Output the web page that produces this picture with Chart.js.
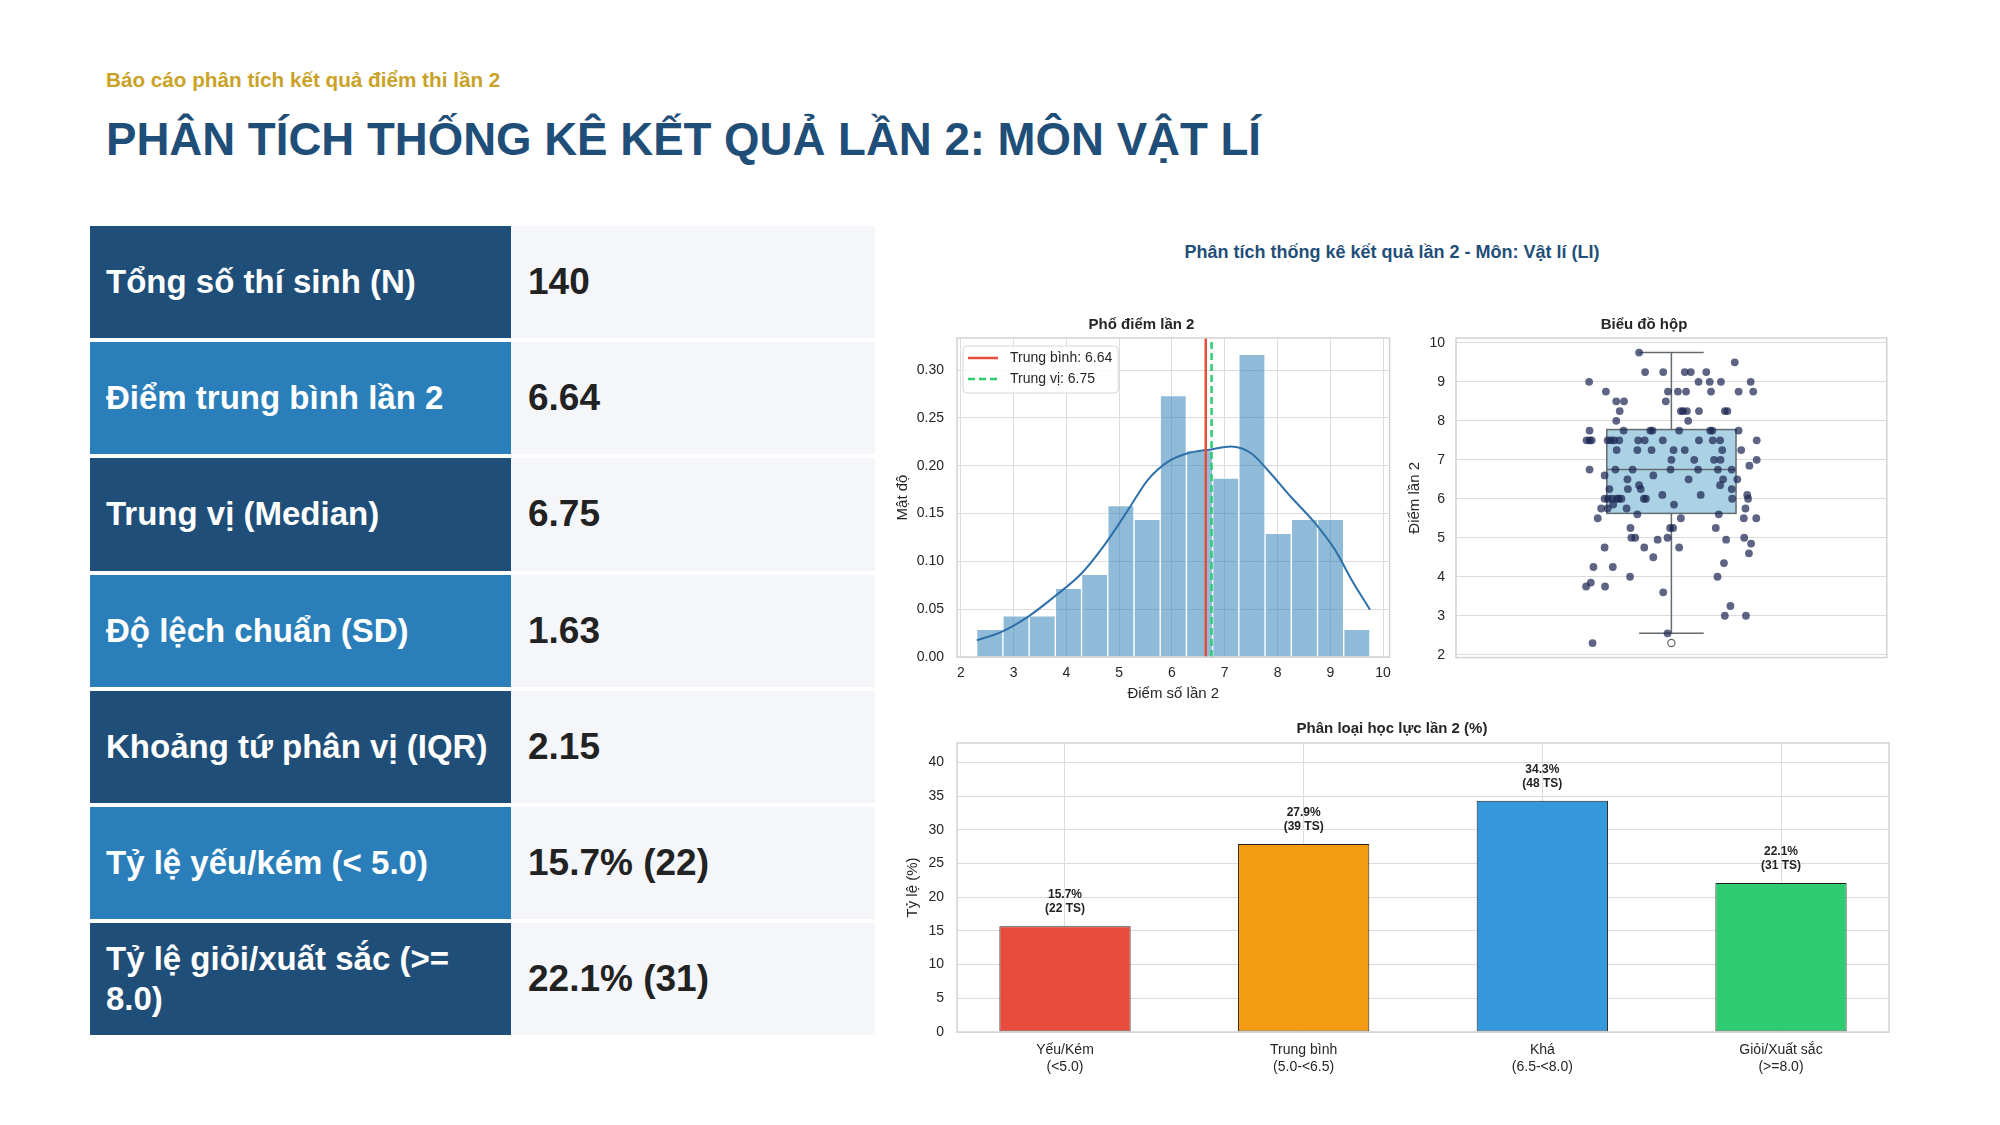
<!DOCTYPE html>
<html>
<head>
<meta charset="utf-8">
<script src="https://cdn.jsdelivr.net/npm/chart.js@4.4.1/dist/chart.umd.min.js"></script>
<style>
html,body{margin:0;padding:0;background:#fff;}
body{width:2000px;height:1125px;position:relative;overflow:hidden;font-family:'Liberation Sans',Arial,Helvetica,sans-serif;}
.sub{position:absolute;left:106px;top:68px;font-size:20.7px;font-weight:bold;color:#c9a227;line-height:24px;white-space:nowrap;}
.title{position:absolute;left:106px;top:114px;font-size:45.6px;font-weight:bold;color:#1f4e79;line-height:52px;white-space:nowrap;}
.table{position:absolute;left:90px;top:226px;width:785px;}
.row{display:flex;height:112.2px;margin-bottom:4px;}
.lab{width:421px;box-sizing:border-box;padding:0 14px 0 16px;display:flex;align-items:center;color:#fff;font-weight:bold;font-size:33px;line-height:40px;}
.row.dark .lab{background:#1f4e79;}
.row.light .lab{background:#2a7fba;}
.val{flex:1;background:#f4f6f9;display:flex;align-items:center;padding-left:17px;font-weight:bold;font-size:37px;color:#222;}
.suptitle{position:absolute;left:1092px;width:600px;top:241px;text-align:center;font-size:18px;font-weight:bold;line-height:22px;color:#1f4e79;white-space:nowrap;}
.cbox{position:absolute;}
</style>
</head>
<body>
<div class="sub">Báo cáo phân tích kết quả điểm thi lần 2</div>
<div class="title">PHÂN TÍCH THỐNG KÊ KẾT QUẢ LẦN 2: MÔN VẬT LÍ</div>
<div class="table" id="statTable"></div>
<div class="suptitle">Phân tích thống kê kết quả lần 2 - Môn: Vật lí (LI)</div>
<div class="cbox" style="left:890px;top:316px;width:509px;height:391px;"><canvas id="hist"></canvas></div>
<div class="cbox" style="left:1400px;top:316px;width:492px;height:361px;"><canvas id="box"></canvas></div>
<div class="cbox" style="left:895px;top:720px;width:1000px;height:370px;"><canvas id="bar"></canvas></div>
<script>
// ---------------- DATA ----------------
const statLabels = ['Tổng số thí sinh (N)', 'Điểm trung bình lần 2', 'Trung vị (Median)', 'Độ lệch chuẩn (SD)', 'Khoảng tứ phân vị (IQR)', 'Tỷ lệ yếu/kém (< 5.0)', 'Tỷ lệ giỏi/xuất sắc (>= 8.0)'];
const statValues = ['140', '6.64', '6.75', '1.63', '2.15', '15.7% (22)', '22.1% (31)'];

const meanScore = 6.64;
const medianScore = 6.75;

// histogram (density) bins
const binCenters = [2.548, 3.045, 3.542, 4.039, 4.535, 5.032, 5.529, 6.025, 6.522, 7.019, 7.515, 8.012, 8.509, 9.005, 9.502];
const binDensity = [0.0288, 0.0431, 0.0431, 0.0719, 0.0863, 0.1582, 0.1438, 0.2733, 0.2157, 0.1870, 0.3164, 0.1294, 0.1438, 0.1438, 0.0288];
// KDE curve
const kdeX = [2.30, 2.76, 3.27, 3.77, 4.28, 4.72, 5.16, 5.54, 5.92, 6.30, 6.74, 7.12, 7.50, 7.82, 8.26, 8.71, 9.09, 9.41, 9.75];
const kdeY = [0.0174, 0.026, 0.042, 0.063, 0.087, 0.117, 0.153, 0.185, 0.204, 0.213, 0.217, 0.220, 0.213, 0.195, 0.167, 0.140, 0.112, 0.080, 0.0495];

// box plot
const boxQ1 = 5.625, boxMedian = 6.75, boxQ3 = 7.775, whiskerLow = 2.55, whiskerHigh = 9.75;
const flierScores = [2.3];
const stripScore = [9.75,9.5,9.25,9.25,9.25,9.25,9.25,9.0,9.0,9.0,9.0,9.0,8.75,8.75,8.75,8.75,8.75,8.75,8.75,8.5,8.5,8.5,8.25,8.25,8.25,8.25,8.25,8.25,8.25,8.0,8.0,
  7.75,7.75,7.75,7.75,7.75,7.75,7.75,7.75,7.5,7.5,7.5,7.5,7.5,7.5,7.5,7.5,7.5,7.5,7.5,7.5,7.5,7.5,7.25,7.25,7.25,7.25,7.25,7.25,7.25,7.0,7.0,7.0,7.0,7.0,6.85,
  6.75,6.75,6.75,6.75,6.75,6.75,6.75,6.6,6.6,6.5,6.5,6.5,6.5,6.35,6.35,6.25,6.25,6.25,6.25,6.1,6.1,6.1,6.0,6.0,6.0,6.0,6.0,6.0,6.0,6.0,6.0,5.85,5.85,
  5.75,5.75,5.75,5.75,5.6,5.6,5.5,5.5,5.5,5.5,5.25,5.25,5.25,5.25,5.0,5.0,5.0,5.0,4.95,4.95,4.85,4.75,4.75,4.75,4.6,4.5,4.35,4.25,4.25,4.0,4.0,
  3.85,3.75,3.75,3.6,3.25,3.0,3.0,2.55,2.3,6.0];
const stripJitter = [-0.075,0.147,-0.061,-0.019,0.031,0.045,0.081,-0.191,0.063,0.089,0.115,0.184,-0.152,-0.008,0.015,0.034,0.092,0.156,0.190,-0.128,-0.110,-0.013,-0.120,0.022,0.027,0.036,0.064,0.124,0.130,-0.128,0.039,
  -0.190,-0.111,-0.049,-0.044,0.018,0.090,0.095,0.156,-0.197,-0.190,-0.185,-0.148,-0.140,-0.133,-0.121,-0.077,-0.062,-0.020,0.064,0.096,0.113,0.198,-0.127,-0.079,-0.046,0.005,0.031,0.118,0.162,0.000,0.053,0.099,0.114,0.198,0.181,
  -0.190,-0.130,-0.090,-0.002,0.062,0.108,0.140,-0.155,-0.042,-0.102,0.040,0.120,0.153,-0.075,0.113,-0.144,-0.101,-0.071,0.140,-0.021,0.068,0.176,-0.155,-0.147,-0.138,-0.127,-0.116,-0.064,-0.059,0.141,0.178,-0.135,0.006,
  -0.163,-0.148,-0.104,0.172,-0.079,0.110,-0.171,0.022,0.168,0.197,-0.095,-0.003,0.004,0.103,-0.093,-0.084,-0.009,0.169,-0.032,0.127,0.185,-0.155,-0.063,0.018,0.180,-0.042,0.122,-0.181,-0.136,-0.096,0.107,
  -0.187,-0.198,-0.154,-0.019,0.137,0.124,0.173,-0.009,-0.183,-0.122];

// classification bar chart
const levelLabels = [['Yếu/Kém', '(<5.0)'], ['Trung bình', '(5.0-<6.5)'], ['Khá', '(6.5-<8.0)'], ['Giỏi/Xuất sắc', '(>=8.0)']];
const levelPct = [15.7, 27.9, 34.3, 22.1];
const levelCount = [22, 39, 48, 31];

// ---------------- STYLES ----------------
const levelColors = ['#e74c3c', '#f39c12', '#3498db', '#2ecc71'];
const FONT = "'Liberation Sans', Arial, Helvetica, sans-serif";
const GRID = '#dcdcdc';
const TXT = '#262626';

// ---------------- TABLE ----------------
const tbl = document.getElementById('statTable');
statLabels.forEach((l, i) => {
  const r = document.createElement('div');
  r.className = 'row ' + (i % 2 === 0 ? 'dark' : 'light');
  const a = document.createElement('div'); a.className = 'lab'; a.textContent = l;
  const b = document.createElement('div'); b.className = 'val'; b.textContent = statValues[i];
  r.appendChild(a); r.appendChild(b); tbl.appendChild(r);
});

// ---------------- CHARTS ----------------
Chart.defaults.font.family = FONT;
Chart.defaults.color = TXT;
Chart.defaults.animation = false;
Chart.defaults.plugins.legend.display = false;
Chart.defaults.plugins.tooltip.enabled = false;

const fixW = w => s => { s.width = w; };
const fixH = h => s => { s.height = h; };
const titleOpt = (text, bottom) => ({display: true, text, color: TXT, font: {size: 15, weight: 'bold'}, padding: {top: 0, bottom}});

const framePlugin = {
  id: 'frame',
  afterDatasetsDraw(chart) {
    const ca = chart.chartArea, ctx = chart.ctx;
    ctx.save();
    ctx.strokeStyle = '#d2d2d2';
    ctx.lineWidth = 1.5;
    ctx.strokeRect(ca.left, ca.top, ca.right - ca.left, ca.bottom - ca.top);
    ctx.restore();
  }
};

const histLegend = {
  id: 'histLegend',
  afterDraw(chart) {
    const ca = chart.chartArea, ctx = chart.ctx;
    const items = chart.data.datasets.filter(d => d.inLegend);
    ctx.save();
    ctx.font = '14px ' + FONT;
    const tw = Math.max(...items.map(d => ctx.measureText(d.label).width));
    const bx = ca.left + 6, by = ca.top + 8, bw = tw + 53, bh = items.length * 21 + 5;
    ctx.beginPath();
    ctx.roundRect(bx, by, bw, bh, 4);
    ctx.fillStyle = 'rgba(255,255,255,0.85)';
    ctx.fill();
    ctx.strokeStyle = '#d6d6d6';
    ctx.lineWidth = 1;
    ctx.stroke();
    items.forEach((d, i) => {
      const yy = by + 12 + i * 21;
      ctx.strokeStyle = d.borderColor;
      ctx.lineWidth = d.borderWidth;
      ctx.setLineDash(d.borderDash || []);
      ctx.beginPath(); ctx.moveTo(bx + 5, yy); ctx.lineTo(bx + 35, yy); ctx.stroke();
      ctx.setLineDash([]);
      ctx.fillStyle = TXT;
      ctx.textBaseline = 'middle';
      ctx.textAlign = 'left';
      ctx.fillText(d.label, bx + 47, yy);
    });
    ctx.restore();
  }
};

const boxPlugin = {
  id: 'boxDraw',
  beforeDatasetsDraw(chart) {
    const xs = chart.scales.x, ys = chart.scales.y, ctx = chart.ctx;
    const half = 0.15, cap = 0.075;
    const xl = xs.getPixelForValue(-half), xr = xs.getPixelForValue(half), xc = xs.getPixelForValue(0);
    const cl = xs.getPixelForValue(-cap), cr = xs.getPixelForValue(cap);
    const y1 = ys.getPixelForValue(boxQ1), y3 = ys.getPixelForValue(boxQ3), ym = ys.getPixelForValue(boxMedian);
    const wl = ys.getPixelForValue(whiskerLow), wh = ys.getPixelForValue(whiskerHigh);
    ctx.save();
    ctx.strokeStyle = '#636b71';
    ctx.lineWidth = 1.5;
    ctx.beginPath();
    ctx.moveTo(xc, y3); ctx.lineTo(xc, wh);
    ctx.moveTo(xc, y1); ctx.lineTo(xc, wl);
    ctx.moveTo(cl, wh); ctx.lineTo(cr, wh);
    ctx.moveTo(cl, wl); ctx.lineTo(cr, wl);
    ctx.stroke();
    ctx.fillStyle = '#aad1e4';
    ctx.fillRect(xl, y3, xr - xl, y1 - y3);
    ctx.strokeRect(xl, y3, xr - xl, y1 - y3);
    ctx.beginPath(); ctx.moveTo(xl, ym); ctx.lineTo(xr, ym); ctx.stroke();
    ctx.restore();
  }
};

const barLabels = {
  id: 'barLabels',
  afterDatasetsDraw(chart) {
    const ctx = chart.ctx, meta = chart.getDatasetMeta(0);
    ctx.save();
    ctx.font = 'bold 12px ' + FONT;
    ctx.fillStyle = '#222';
    ctx.textAlign = 'center';
    ctx.textBaseline = 'middle';
    meta.data.forEach((bar, i) => {
      ctx.fillText(levelPct[i].toFixed(1) + '%', bar.x, bar.y - 31);
      ctx.fillText('(' + levelCount[i] + ' TS)', bar.x, bar.y - 17.5);
    });
    ctx.restore();
  }
};

// Histogram
const histYMax = 0.3335;
new Chart(document.getElementById('hist'), {
  type: 'bar',
  data: {
    datasets: [
      {type: 'line', inLegend: true, label: 'Trung bình: ' + meanScore.toFixed(2), data: [{x: meanScore, y: 0}, {x: meanScore, y: histYMax}], borderColor: '#e74c3c', borderWidth: 2.5, pointRadius: 0, order: 0},
      {type: 'line', inLegend: true, label: 'Trung vị: ' + medianScore.toFixed(2), data: [{x: medianScore, y: 0}, {x: medianScore, y: histYMax}], borderColor: '#2ecc71', borderWidth: 2.5, borderDash: [7, 4], pointRadius: 0, order: 1},
      {type: 'line', label: 'KDE', data: kdeX.map((x, i) => ({x, y: kdeY[i]})), borderColor: '#2f70a8', borderWidth: 2, pointRadius: 0, cubicInterpolationMode: 'monotone', order: 2},
      {type: 'bar', label: 'Mật độ', data: binCenters.map((x, i) => ({x, y: binDensity[i]})), backgroundColor: 'rgba(31,119,180,0.5)', borderColor: '#ffffff', borderWidth: 1, barPercentage: 1, categoryPercentage: 1, order: 3}
    ]
  },
  options: {
    responsive: true, maintainAspectRatio: false,
    layout: {padding: {left: 0, top: 0, right: 6, bottom: 0}},
    plugins: {title: titleOpt('Phổ điểm lần 2', 4)},
    scales: {
      x: {type: 'linear', offset: false, min: 1.9275, max: 10.1225,
          ticks: {stepSize: 1, includeBounds: false, autoSkip: false, maxRotation: 0, padding: 8, font: {size: 14}, color: TXT},
          grid: {color: GRID, offset: false, drawTicks: false}, border: {display: false},
          title: {display: true, text: 'Điểm số lần 2', color: TXT, font: {size: 15}, padding: {top: 0, bottom: 4}},
          afterFit: fixH(50)},
      y: {min: 0, max: histYMax,
          ticks: {stepSize: 0.05, includeBounds: false, padding: 13, font: {size: 14}, color: TXT, callback: v => v.toFixed(2)},
          grid: {color: GRID, drawTicks: false}, border: {display: false},
          title: {display: true, text: 'Mật độ', color: TXT, font: {size: 15}, padding: {top: 4, bottom: 0}},
          afterFit: fixW(67)}
    }
  },
  plugins: [framePlugin, histLegend]
});

// Box plot
new Chart(document.getElementById('box'), {
  type: 'scatter',
  data: {
    datasets: [
      {label: 'Ngoại lai', data: flierScores.map(y => ({x: 0, y})), pointRadius: 3.6, pointBackgroundColor: '#ffffff', pointBorderColor: '#666', pointBorderWidth: 1.2, order: 0},
      {label: 'Điểm lần 2', data: stripJitter.map((x, i) => ({x, y: stripScore[i]})), pointRadius: 3.9, pointBackgroundColor: 'rgba(26,35,80,0.70)', pointBorderWidth: 0, order: 1}
    ]
  },
  options: {
    responsive: true, maintainAspectRatio: false,
    layout: {padding: {left: 0, top: 0, right: 4, bottom: 4}},
    plugins: {title: titleOpt('Biểu đồ hộp', 4)},
    scales: {
      x: {type: 'linear', min: -0.5, max: 0.5, ticks: {display: false}, grid: {display: false}, border: {display: false}, afterFit: fixH(0)},
      y: {min: 1.9275, max: 10.1225,
          ticks: {stepSize: 1, includeBounds: false, padding: 11, font: {size: 14}, color: TXT},
          grid: {color: GRID, drawTicks: false}, border: {display: false},
          title: {display: true, text: 'Điểm lần 2', color: TXT, font: {size: 15}, padding: {top: 6, bottom: 0}},
          afterFit: fixW(56)}
    }
  },
  plugins: [boxPlugin, framePlugin]
});

// Classification bar chart
const barYMax = Math.max(...levelPct) * 1.25;
new Chart(document.getElementById('bar'), {
  type: 'bar',
  data: {
    datasets: [{label: 'Tỷ lệ (%)', data: levelPct.map((y, i) => ({x: i, y})), backgroundColor: levelColors, borderColor: '#222', borderWidth: 1, borderSkipped: false, barPercentage: 0.55, categoryPercentage: 1}]
  },
  options: {
    responsive: true, maintainAspectRatio: false,
    layout: {padding: {left: 0, top: 0, right: 6, bottom: 0}},
    plugins: {title: titleOpt('Phân loại học lực lần 2 (%)', 5)},
    scales: {
      x: {type: 'linear', offset: false, min: -0.4525, max: 3.4525,
          ticks: {stepSize: 1, includeBounds: false, autoSkip: false, maxRotation: 0, padding: 10, font: {size: 14}, color: TXT, callback: v => levelLabels[v]},
          grid: {color: GRID, offset: false, drawTicks: false}, border: {display: false},
          afterFit: fixH(58)},
      y: {min: 0, max: barYMax,
          ticks: {stepSize: 5, includeBounds: false, padding: 13, font: {size: 14}, color: TXT},
          grid: {color: GRID, drawTicks: false}, border: {display: false},
          title: {display: true, text: 'Tỷ lệ (%)', color: TXT, font: {size: 15}, padding: {top: 9, bottom: 0}},
          afterFit: fixW(62)}
    }
  },
  plugins: [framePlugin, barLabels]
});
</script>
</body>
</html>
